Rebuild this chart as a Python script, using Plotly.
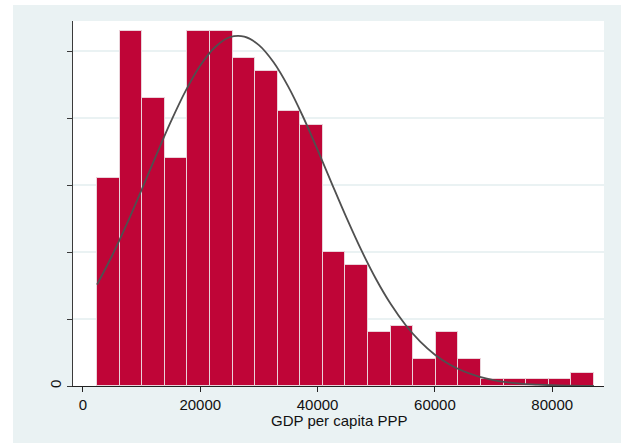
import plotly.graph_objects as go

# ---- data ----
bin_start = 2390          # lower edge of first bin (GDP per capita PPP)
bin_width = 3851          # width of each bin
counts = [31, 53, 43, 34, 53, 53, 49, 47, 41, 39, 20, 18,
          8, 9, 4, 8, 4, 1, 1, 1, 1, 2]

curve_x = [2390, 5000, 7500, 10000, 12500, 15000, 17500, 20000, 22500, 25000,
           27500, 30000, 32500, 35000, 37500, 40000, 42500, 45000, 47500, 50000,
           52500, 55000, 57500, 60000, 62500, 65000, 67500, 70000, 72500, 75000,
           77500, 80000, 82500, 85000, 87110]
curve_y = [15.14, 19.52, 24.23, 29.30, 34.48, 39.50, 44.06, 47.85, 50.58, 52.07,
           52.17, 50.90, 48.34, 44.70, 40.24, 35.26, 30.08, 24.98, 20.20, 15.90,
           12.19, 9.10, 6.61, 4.67, 3.22, 2.16, 1.41, 0.89, 0.55, 0.33,
           0.20, 0.11, 0.06, 0.03, 0.02]

x_ticks = [0, 20000, 40000, 60000, 80000]
x_tick_labels = ["0", "20000", "40000", "60000", "80000"]
y_ticks = [0, 10, 20, 30, 40, 50]
y_tick_labels = ["0", "", "", "", "", ""]
x_title = "GDP per capita PPP"

bin_centers = [bin_start + (i + 0.5) * bin_width for i in range(len(counts))]

BG = "#EAF2F3"
FONT = "Liberation Sans, Arial, sans-serif"

fig = go.Figure()
fig.add_trace(go.Bar(
    x=bin_centers, y=counts, width=[bin_width] * len(counts),
    marker=dict(color="#BF0537", line=dict(color="#EAD3DA", width=1)),
    hoverinfo="skip", showlegend=False,
))
fig.add_trace(go.Scatter(
    x=curve_x, y=curve_y, mode="lines", line=dict(color="#505050", width=1.8, shape="spline"),
    hoverinfo="skip", showlegend=False,
))

fig.update_layout(
    width=621, height=443,
    margin=dict(l=73, r=17, t=21, b=57),
    paper_bgcolor=BG, plot_bgcolor="white",
    bargap=0,
    font=dict(family=FONT, size=15, color="#111111"),
    xaxis=dict(
        range=[-1700, 88830], tickvals=x_ticks, ticktext=x_tick_labels,
        showgrid=False, zeroline=False,
        showline=True, linecolor="#222222", linewidth=1.3,
        ticks="outside", ticklen=5, tickwidth=1.3, tickcolor="#222222",
        tickfont=dict(size=15),
    ),
    yaxis=dict(
        range=[0, 54.5], tickvals=y_ticks, ticktext=y_tick_labels,
        showgrid=True, gridcolor=BG, gridwidth=1.5, zeroline=False,
        showline=True, linecolor="#3a3a3a", linewidth=1.3,
        ticks="outside", ticklen=5, tickwidth=1.3, tickcolor="#3a3a3a",
        tickangle=-90, tickfont=dict(size=15),
    ),
    annotations=[
        dict(text=x_title, xref="paper", yref="paper", x=0.5, y=-34 / 365,
             xanchor="center", yanchor="middle", showarrow=False,
             font=dict(size=15, color="#111111")),
    ],
    shapes=[
        dict(type="rect", xref="paper", yref="paper", layer="below",
             x0=-73 / 531, x1=-60 / 531, y0=-57 / 365, y1=1 + 21 / 365,
             fillcolor="white", line=dict(width=0)),
        dict(type="rect", xref="paper", yref="paper", layer="below",
             x0=-73 / 531, x1=1 + 17 / 531, y0=1 + 16 / 365, y1=1 + 21 / 365,
             fillcolor="white", line=dict(width=0)),
    ],
)

fig.write_html("out.html")
